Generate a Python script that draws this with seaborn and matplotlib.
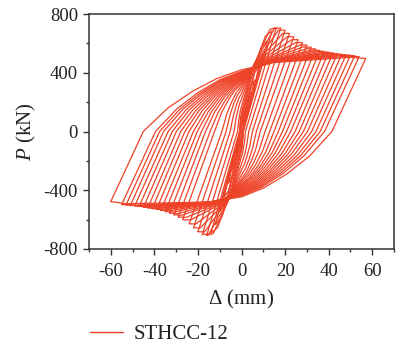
import matplotlib
matplotlib.use("Agg")
import matplotlib.pyplot as plt
import pandas as pd
import seaborn as sns
from matplotlib.lines import Line2D
from matplotlib.ticker import MultipleLocator

# Peak points of each loading cycle (mm, kN)
disp_pos = [4, 6, 8, 10, 12, 14, 16, 18, 20, 22, 24, 26, 28, 30, 32, 34, 36, 38, 40, 42, 44, 46, 48, 50, 52, 54, 57]
load_pos = [260, 350, 440, 530, 620, 685, 708, 705, 690, 668, 645, 625, 605, 588, 574, 562, 552, 545, 540, 535, 530, 526, 522, 520, 516, 510, 497]
disp_neg = [-4, -6, -8, -10, -12, -14, -16, -18, -20, -22, -24, -27, -29, -31, -33, -35, -37, -39, -41, -43, -45, -47, -49, -51, -53, -55, -60]
load_neg = [-260, -350, -445, -540, -630, -690, -708, -700, -682, -655, -628, -600, -582, -567, -555, -545, -537, -530, -525, -520, -515, -510, -506, -503, -500, -497, -477]

# Residual displacement where each unloading branch crosses P = 0
resid_pos = [0.3, 0.4, 0.7, 0.7, 0.7, 0.8, 1.8, 3.3, 5.0, 6.8, 8.6, 10.8, 12.9, 14.9, 16.9, 18.8, 20.7, 22.6, 24.6, 26.5, 28.4, 30.3, 32.2, 34.2, 36.1, 38.1, 41.5]
resid_neg = [-0.3, -0.4, -0.6, -0.7, -0.8, -0.9, -1.8, -3.4, -5.2, -7.1, -9.0, -12.4, -14.4, -16.5, -18.4, -20.3, -22.1, -24.1, -26.0, -27.9, -29.9, -31.8, -33.7, -35.8, -37.6, -39.5, -45.1]

# Load where each branch crosses zero displacement
zero_up = [30, 50, 70, 90, 110, 130, 170, 220, 260, 290, 310, 325, 335, 345, 352, 358, 364, 370, 375, 380, 385, 390, 395, 400, 405, 410, 420]
zero_down = [-30, -50, -70, -90, -110, -130, -170, -220, -260, -295, -320, -335, -348, -360, -368, -375, -382, -390, -396, -402, -408, -414, -420, -426, -432, -438, -445]

# Points along the reloading curve towards positive displacement
curve_up_d1 = [-0.2, -0.3, -0.5, -0.5, -0.6, -0.7, -1.4, -2.6, -3.9, -5.3, -6.8, -9.3, -10.8, -12.4, -13.8, -15.2, -16.6, -18.1, -19.5, -20.9, -22.4, -23.9, -25.3, -26.9, -28.2, -29.6, -33.8]
curve_up_p1 = [11, 19, 27, 34, 42, 49, 65, 84, 99, 110, 118, 124, 127, 131, 134, 136, 138, 141, 143, 144, 146, 148, 150, 152, 154, 156, 160]
curve_up_d2 = [-0.2, -0.2, -0.3, -0.4, -0.4, -0.5, -0.9, -1.7, -2.6, -3.6, -4.5, -6.2, -7.2, -8.3, -9.2, -10.2, -11.1, -12.1, -13.0, -14.0, -15.0, -15.9, -16.9, -17.9, -18.8, -19.8, -22.6]
curve_up_p2 = [20, 33, 46, 59, 72, 85, 110, 143, 169, 189, 202, 211, 218, 224, 229, 233, 237, 241, 244, 247, 250, 254, 257, 260, 263, 267, 273]
curve_up_d3 = [-0.1, -0.1, -0.2, -0.2, -0.2, -0.2, -0.5, -0.9, -1.3, -1.8, -2.3, -3.1, -3.6, -4.1, -4.6, -5.1, -5.5, -6.0, -6.5, -7.0, -7.5, -8.0, -8.4, -9.0, -9.4, -9.9, -11.3]
curve_up_p3 = [26, 43, 60, 77, 95, 112, 146, 189, 224, 249, 267, 280, 288, 297, 303, 308, 313, 318, 323, 327, 331, 335, 340, 344, 348, 353, 361]

# Points along the reloading curve towards negative displacement
curve_down_d1 = [0.2, 0.3, 0.5, 0.5, 0.5, 0.6, 1.4, 2.5, 3.8, 5.1, 6.5, 8.1, 9.7, 11.2, 12.7, 14.1, 15.5, 17.0, 18.5, 19.9, 21.3, 22.7, 24.2, 25.7, 27.1, 28.6, 31.1]
curve_down_p1 = [-11, -19, -27, -34, -42, -49, -65, -84, -99, -112, -122, -127, -132, -137, -140, -143, -145, -148, -150, -153, -155, -157, -160, -162, -164, -166, -169]
curve_down_d2 = [0.2, 0.2, 0.4, 0.4, 0.4, 0.4, 0.9, 1.7, 2.5, 3.4, 4.3, 5.4, 6.5, 7.5, 8.5, 9.4, 10.4, 11.3, 12.3, 13.3, 14.2, 15.2, 16.1, 17.1, 18.1, 19.1, 20.8]
curve_down_p2 = [-20, -33, -46, -59, -72, -85, -111, -143, -169, -192, -208, -218, -226, -234, -239, -244, -248, -254, -257, -261, -265, -269, -273, -277, -281, -285, -289]
curve_down_d3 = [0.1, 0.1, 0.2, 0.2, 0.2, 0.2, 0.5, 0.8, 1.3, 1.7, 2.2, 2.7, 3.2, 3.7, 4.2, 4.7, 5.2, 5.7, 6.2, 6.6, 7.1, 7.6, 8.1, 8.6, 9.0, 9.5, 10.4]
curve_down_p3 = [-26, -43, -60, -77, -95, -112, -146, -189, -224, -254, -275, -288, -299, -310, -316, -323, -329, -335, -341, -346, -351, -356, -361, -366, -372, -377, -383]

# Pinching point after the zero-displacement crossing
pinch_up_d = [1.5, 2, 3, 3.5, 4, 4.5, 5, 5.5, 6, 6.5, 7, 7.5, 8, 8.5, 9, 9.5, 10, 10.5, 11, 11.5, 12, 12.5, 13, 13.5, 14, 14.5, 15]
pinch_up_p = [110, 150, 220, 280, 340, 390, 430, 450, 460, 465, 470, 470, 470, 470, 470, 470, 470, 470, 470, 470, 470, 470, 470, 472, 472, 472, 470]
pinch_down_d = [-1.5, -2, -3, -3.5, -4, -4.5, -5, -5.5, -6, -6.5, -7, -7.5, -8, -8.5, -9, -9.5, -10, -10.5, -11, -11.5, -12, -12.5, -13, -13.5, -14, -14.5, -15]
pinch_down_p = [-110, -150, -225, -285, -345, -395, -435, -455, -465, -470, -475, -478, -480, -480, -480, -480, -480, -480, -480, -480, -480, -480, -480, -480, -480, -480, -480]

# Point where each branch levels off before its peak
approach_up_d = [3, 4.5, 6, 7.5, 9, 11, 13, 15, 17, 19, 21, 23, 25, 27, 28, 30, 32, 33, 35, 37, 38, 40, 42, 44, 46, 48, 50]
approach_up_p = [220, 310, 400, 480, 570, 650, 695, 700, 690, 668, 645, 625, 606, 590, 575, 564, 555, 548, 543, 538, 533, 529, 525, 522, 518, 512, 505]
approach_down_d = [-3, -4.5, -6, -7.5, -9, -11, -13, -15, -17, -19, -21, -23.5, -25.5, -27.5, -29, -31, -33, -35, -36.5, -38.5, -40, -42, -44, -46, -47.5, -49, -53]
approach_down_p = [-220, -310, -405, -490, -580, -655, -695, -698, -684, -657, -630, -603, -585, -570, -558, -548, -540, -534, -529, -524, -520, -515, -511, -508, -505, -502, -492]

series_label = "STHCC-12"
line_color = "#EE4227"

sns.set_theme(style="ticks")
plt.rcParams["font.family"] = ["Liberation Serif", "DejaVu Serif"]
plt.rcParams["mathtext.fontset"] = "custom"
plt.rcParams["mathtext.rm"] = "Liberation Serif"
plt.rcParams["mathtext.it"] = "Liberation Serif:italic"
plt.rcParams["axes.unicode_minus"] = False

# Assemble every closed hysteresis loop as an ordered path
rows = []
for i in range(len(disp_pos)):
    path = [
        (disp_neg[i], load_neg[i]),
        (resid_neg[i], 0.0),
        (curve_up_d1[i], curve_up_p1[i]),
        (curve_up_d2[i], curve_up_p2[i]),
        (curve_up_d3[i], curve_up_p3[i]),
        (0.0, zero_up[i]),
        (pinch_up_d[i], pinch_up_p[i]),
        (approach_up_d[i], approach_up_p[i]),
        (disp_pos[i], load_pos[i]),
        (resid_pos[i], 0.0),
        (curve_down_d1[i], curve_down_p1[i]),
        (curve_down_d2[i], curve_down_p2[i]),
        (curve_down_d3[i], curve_down_p3[i]),
        (0.0, zero_down[i]),
        (pinch_down_d[i], pinch_down_p[i]),
        (approach_down_d[i], approach_down_p[i]),
        (disp_neg[i], load_neg[i]),
    ]
    for d, p in path:
        rows.append({"cycle": i, "disp": d, "load": p})
loops = pd.DataFrame(rows)

fig = plt.figure(figsize=(4.01, 3.51), dpi=100)
ax = fig.add_axes([0.222, 0.2906, 0.7606, 0.6695])

sns.lineplot(data=loops, x="disp", y="load", units="cycle", estimator=None,
             sort=False, color=line_color, linewidth=0.9, ax=ax, legend=False)

ax.set_xlim(-70, 70)
ax.set_ylim(-800, 800)
ax.xaxis.set_major_locator(MultipleLocator(20))
ax.xaxis.set_minor_locator(MultipleLocator(10))
ax.yaxis.set_major_locator(MultipleLocator(400))
ax.yaxis.set_minor_locator(MultipleLocator(200))

ax.tick_params(which="both", direction="out", top=False, right=False,
               color="#333333", width=1.0, labelsize=13.5, labelcolor="#222222")
ax.tick_params(axis="x", which="major", length=4, pad=6)
ax.tick_params(axis="y", which="major", length=4, pad=4)
ax.tick_params(which="minor", length=2)
for s in ax.spines.values():
    s.set_color("#333333")
    s.set_linewidth(1.1)

ax.set_xlabel(r"$\mathit{\Delta}$ (mm)", fontsize=15, color="#222222", labelpad=6)
ax.set_ylabel(r"$\mathit{P}$ (kN)", fontsize=15, color="#222222", labelpad=4)

fig.legend(handles=[Line2D([], [], color=line_color, linewidth=1.0)],
           labels=[series_label], loc="center left",
           bbox_to_anchor=(0.2244, 1 - 334 / 351), frameon=False,
           handlelength=1.6, handletextpad=0.5, borderpad=0, borderaxespad=0,
           fontsize=15, labelcolor="#222222")

fig.savefig("out.png", dpi=100)
